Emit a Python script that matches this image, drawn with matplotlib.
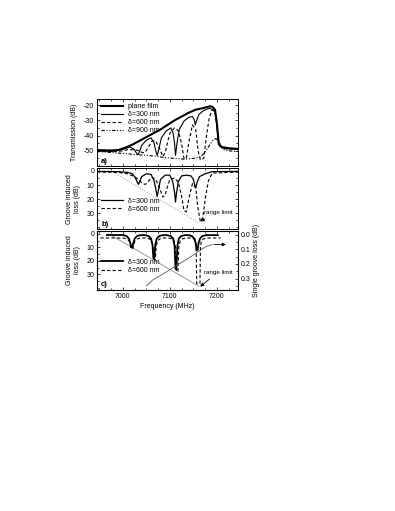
import matplotlib
matplotlib.use('Agg')
import matplotlib.pyplot as plt
from matplotlib.ticker import MultipleLocator

plt.rcParams['font.family'] = ['Liberation Sans', 'DejaVu Sans']
plt.rcParams['font.size'] = 5
plt.rcParams['axes.unicode_minus'] = False

# ---------- panel a: transmission (dB) ----------
f_plane = [6945, 6975, 6990, 7005, 7020, 7035, 7050, 7065, 7080, 7095, 7110, 7125,
           7140, 7155, 7170, 7185, 7190, 7196, 7200, 7204, 7210, 7225, 7245]
t_plane = [-49.5, -49.8, -49.5, -48.0, -46.0, -43.5, -41.0, -38.5, -36.0, -33.0, -30.0, -27.5,
           -25.0, -23.0, -22.0, -20.8, -21.0, -23.0, -32.0, -45.5, -47.5, -48.3, -48.8]

f_a300 = [6945, 6980, 7000, 7015, 7024, 7029, 7032, 7035, 7040, 7050, 7060, 7066, 7070,
          7073, 7076, 7082, 7092, 7102, 7107, 7110, 7112, 7115, 7120, 7130, 7140, 7148,
          7152, 7154, 7157, 7162, 7172, 7185, 7196, 7200, 7204, 7215, 7245]
t_a300 = [-50.2, -50.3, -49.0, -47.5, -49.0, -51.5, -52.5, -51.0, -46.5, -43.0, -41.5, -44.5, -50.0,
          -53.0, -49.5, -41.5, -37.0, -35.0, -38.5, -45.0, -53.0, -45.3, -36.0, -30.5, -28.0, -27.5,
          -29.7, -33.0, -30.0, -26.0, -23.5, -22.0, -24.0, -33.0, -46.0, -48.5, -49.0]

f_a600 = [6945, 6990, 7010, 7025, 7035, 7042, 7048, 7055, 7062, 7070, 7078, 7085, 7090,
          7095, 7100, 7110, 7118, 7125, 7130, 7135, 7140, 7148, 7155, 7160, 7165, 7172,
          7178, 7184, 7190, 7196, 7200, 7204, 7215, 7245]
t_a600 = [-50.3, -50.5, -49.3, -49.3, -50.0, -51.3, -50.8, -47.2, -43.5, -43.7, -48.3, -53.7, -51.3,
          -44.5, -38.5, -35.0, -36.8, -45.5, -55.0, -55.0, -45.0, -33.0, -36.0, -50.0, -56.0, -55.0,
          -40.0, -28.0, -23.0, -25.0, -33.0, -46.5, -48.5, -49.0]

f_a900 = [6945, 6970, 6990, 7010, 7030, 7050, 7070, 7090, 7110, 7130, 7150, 7165, 7175,
          7185, 7192, 7198, 7205, 7212, 7225, 7245]
t_a900 = [-50.5, -51.0, -51.5, -52.0, -52.5, -53.0, -53.5, -54.5, -55.0, -55.5, -55.0, -54.0, -51.0,
          -46.0, -43.0, -42.0, -44.0, -49.0, -50.0, -50.5]

# ---------- panel b: measured groove induced loss (dB) ----------
f_b300 = [6945, 6990, 7010, 7020, 7026, 7030, 7033, 7036, 7040, 7050, 7060, 7066, 7070,
          7073, 7076, 7080, 7090, 7100, 7106, 7110, 7112, 7114, 7118, 7125, 7135, 7145,
          7150, 7153, 7155, 7158, 7163, 7175, 7190, 7245]
l_b300 = [0.3, 0.5, 1.0, 2.0, 4.5, 7.5, 9.5, 7.5, 4.0, 2.0, 2.5, 6.5, 12.5,
          18.0, 13.0, 6.0, 3.0, 3.0, 7.5, 15.0, 22.0, 16.0, 7.5, 3.5, 3.0, 3.5,
          6.0, 10.0, 12.0, 8.0, 4.0, 2.0, 0.5, 0.3]

f_b600 = [6945, 6990, 7010, 7025, 7035, 7042, 7048, 7055, 7062, 7070, 7078, 7085, 7090,
          7095, 7100, 7110, 7118, 7125, 7130, 7135, 7140, 7148, 7155, 7160, 7165, 7170,
          7176, 7182, 7190, 7245]
l_b600 = [0.8, 1.0, 2.0, 4.0, 6.5, 9.0, 9.5, 7.0, 4.5, 6.0, 12.0, 18.5, 17.0,
          11.0, 6.0, 5.0, 8.0, 18.0, 28.0, 29.0, 20.0, 9.0, 12.0, 27.0, 36.0, 33.0,
          18.0, 7.0, 1.5, 0.8]

# range limit (dB)
f_lim = [6975, 7160]
l_lim = [0.0, 36.5]

# ---------- panel c: calculated loss (dB) ----------
f_c300 = [6966, 7000, 7008, 7013, 7016, 7018, 7020, 7022, 7025, 7030, 7038, 7047, 7055,
          7060, 7063, 7065, 7067, 7069, 7072, 7077, 7085, 7094, 7102, 7107, 7110, 7112,
          7114, 7116, 7119, 7124, 7132, 7140, 7147, 7152, 7155, 7157, 7159, 7161, 7164,
          7169, 7177, 7202]
l_c300 = [0.8, 0.8, 1.6, 3.5, 7.0, 10.0, 10.0, 7.0, 3.5, 1.6, 0.9, 0.9, 1.6,
          3.5, 8.0, 18.0, 18.0, 8.0, 3.5, 1.6, 0.9, 0.9, 1.6, 3.5, 9.0, 26.0,
          26.0, 9.0, 3.5, 1.6, 0.9, 0.9, 1.6, 3.5, 7.0, 12.0, 12.0, 7.0, 3.5,
          1.6, 0.9, 0.9]

f_c600 = [6952, 7000, 7008, 7013, 7016, 7018, 7021, 7023, 7026, 7031, 7039, 7048, 7056,
          7061, 7064, 7066, 7069, 7071, 7074, 7079, 7087, 7096, 7104, 7109, 7112, 7114,
          7117, 7119, 7122, 7127, 7135, 7144, 7151, 7155, 7156, 7157, 7164, 7165, 7167,
          7172, 7180, 7208]
l_c600 = [3.0, 3.0, 3.6, 5.0, 8.0, 11.0, 11.0, 8.0, 5.0, 3.6, 3.0, 3.0, 3.6,
          5.0, 9.0, 19.0, 19.0, 9.0, 5.0, 3.6, 3.0, 3.0, 3.6, 5.0, 10.0, 28.0,
          28.0, 10.0, 5.0, 3.6, 3.0, 3.0, 3.6, 5.0, 10.0, 37.0, 37.0, 10.0, 5.0,
          3.6, 3.0, 3.0]

f_climit = [6970, 7162]
l_climit = [0.0, 39.0]

# single groove loss (dB), right axis
f_single = [7050, 7063, 7090, 7114, 7140, 7156, 7170, 7180, 7190]
s_single = [0.35, 0.31, 0.26, 0.21, 0.16, 0.127, 0.095, 0.078, 0.068]

a_ticks = [-50, -40, -30, -20]
loss_ticks = [0, 10, 20, 30]
single_ticks = [0.0, 0.1, 0.2, 0.3]

fig = plt.figure(figsize=(3.95, 5.11), dpi=100)
L, W = 0.2456, 0.357
ax_a = fig.add_axes([L, 0.6751, W, 0.1311])
ax_b = fig.add_axes([L, 0.5513, W, 0.1194], sharex=ax_a)
ax_c = fig.add_axes([L, 0.4325, W, 0.1155], sharex=ax_a)


def style(ax, right=True):
    ax.tick_params(which='both', direction='in', top=True, right=right, labelsize=5,
                   width=0.5, pad=2)
    ax.tick_params(which='major', length=2.5)
    ax.tick_params(which='minor', length=1.3)
    for s in ax.spines.values():
        s.set_linewidth(0.7)


# panel a
ax_a.plot(f_plane, t_plane, color='k', lw=1.5, label='plane film')
ax_a.plot(f_a300, t_a300, color='k', lw=0.8, label='δ=300 nm')
ax_a.plot(f_a600, t_a600, color='k', lw=0.8, ls=(0, (3, 2)), label='δ=600 nm')
ax_a.plot(f_a900, t_a900, color='k', lw=0.8, ls=(0, (3, 1.5, 1, 1.5, 1, 1.5)), label='δ=900 nm')
ax_a.set_ylim(-60, -16)
ax_a.set_yticks(a_ticks)
ax_a.yaxis.set_minor_locator(MultipleLocator(5))
ax_a.set_ylabel('Transmission (dB)', fontsize=5, labelpad=4)
ax_a.legend(loc='upper left', frameon=False, fontsize=5, handlelength=3.2,
            handletextpad=0.6, labelspacing=0.15, borderaxespad=0.2)
ax_a.text(0.03, 0.04, 'a)', transform=ax_a.transAxes, fontsize=5.5, fontweight='bold')
style(ax_a)
plt.setp(ax_a.get_xticklabels(), visible=False)

# panel b
ax_b.plot(f_lim, l_lim, color='0.6', lw=0.7, ls=':')
ax_b.plot(f_b300, l_b300, color='k', lw=0.9, label='δ=300 nm')
ax_b.plot(f_b600, l_b600, color='k', lw=0.8, ls=(0, (3, 2)), label='δ=600 nm')
ax_b.set_ylim(41.3, -1.9)
ax_b.set_yticks(loss_ticks)
ax_b.yaxis.set_minor_locator(MultipleLocator(5))
ax_b.set_ylabel('Groove induced\nloss (dB)', fontsize=5, labelpad=4, linespacing=1.1)
ax_b.legend(loc='lower left', bbox_to_anchor=(0.0, 0.2), frameon=False, fontsize=5,
            handlelength=3.2, handletextpad=0.6, labelspacing=0.2, borderaxespad=0.2)
ax_b.annotate('range limit', xy=(7160, 36.5), xytext=(7172, 30.5), fontsize=4.5,
              arrowprops=dict(arrowstyle='-|>', color='k', lw=0.6, mutation_scale=5))
ax_b.text(0.03, 0.06, 'b)', transform=ax_b.transAxes, fontsize=5.5, fontweight='bold')
style(ax_b)
plt.setp(ax_b.get_xticklabels(), visible=False)

# panel c
ax_c.plot(f_climit, l_climit, color='0.6', lw=0.7)
ax_c.plot(f_c300, l_c300, color='k', lw=1.3, label='δ=300 nm')
ax_c.plot(f_c600, l_c600, color='k', lw=0.8, ls=(0, (3, 2)), label='δ=600 nm')
ax_c.set_ylim(41.7, -2.2)
ax_c.set_yticks(loss_ticks)
ax_c.yaxis.set_minor_locator(MultipleLocator(5))
ax_c.set_ylabel('Groove induced\nloss (dB)', fontsize=5, labelpad=4, linespacing=1.1)
ax_c.legend(loc='lower left', bbox_to_anchor=(0.0, 0.2), frameon=False, fontsize=5,
            handlelength=3.2, handletextpad=0.6, labelspacing=0.2, borderaxespad=0.2)
ax_c.annotate('range limit', xy=(7160, 40.5), xytext=(7172, 29.5), fontsize=4.5,
              arrowprops=dict(arrowstyle='-|>', color='k', lw=0.6, mutation_scale=5))
ax_c.text(0.03, 0.06, 'c)', transform=ax_c.transAxes, fontsize=5.5, fontweight='bold')
ax_c.set_xlabel('Frequency (MHz)', fontsize=5, labelpad=2)
style(ax_c, right=False)

ax_r = ax_c.twinx()
ax_r.plot(f_single, s_single, color='0.35', lw=0.6)
ax_r.annotate('', xy=(7225, 0.068), xytext=(7188, 0.068),
              arrowprops=dict(arrowstyle='-|>', color='k', lw=0.6, mutation_scale=5))
ax_r.set_ylim(0.377, -0.024)
ax_r.set_yticks(single_ticks)
ax_r.yaxis.set_minor_locator(MultipleLocator(0.05))
ax_r.set_ylabel('Single groove loss (dB)', fontsize=5, labelpad=2)
ax_r.tick_params(which='both', direction='in', labelsize=5, width=0.5, pad=2)
ax_r.tick_params(which='major', length=2.5)
ax_r.tick_params(which='minor', length=1.3)

ax_a.set_xlim(6945, 7245)
ax_a.xaxis.set_major_locator(MultipleLocator(100))
ax_a.xaxis.set_minor_locator(MultipleLocator(25))

fig.savefig('out.png', dpi=100)
